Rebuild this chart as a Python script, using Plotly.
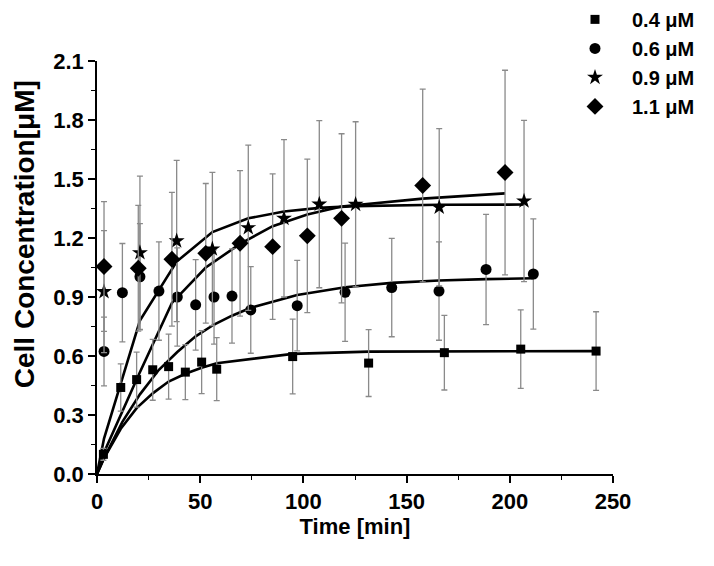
import plotly.graph_objects as go

# ---- data ----
x_04 = [3.1, 11.5, 19.2, 27.0, 34.7, 42.8, 50.7, 58.0, 94.8, 131.6, 168.3, 205.3, 241.8]
y_04 = [0.10, 0.44, 0.48, 0.53, 0.546, 0.518, 0.569, 0.533, 0.597, 0.564, 0.617, 0.635, 0.625]
e_04 = [0.03, 0.12, 0.14, 0.155, 0.165, 0.14, 0.16, 0.16, 0.19, 0.17, 0.19, 0.20, 0.20]

x_06 = [3.4, 12.3, 20.8, 30.0, 38.9, 47.8, 56.7, 65.4, 74.5, 97.0, 120.2, 142.8, 165.7, 188.5, 211.4]
y_06 = [0.623, 0.922, 1.003, 0.93, 0.90, 0.86, 0.90, 0.905, 0.834, 0.856, 0.924, 0.948, 0.93, 1.04, 1.017]
e_06 = [0.175, 0.25, 0.27, 0.25, 0.25, 0.23, 0.24, 0.24, 0.22, 0.23, 0.25, 0.25, 0.25, 0.28, 0.28]

x_09 = [3.4, 20.8, 38.6, 55.9, 73.3, 90.6, 107.7, 125.3, 165.8, 206.9]
y_09 = [0.927, 1.125, 1.185, 1.144, 1.252, 1.30, 1.372, 1.371, 1.356, 1.388]
e_09 = [0.31, 0.39, 0.41, 0.39, 0.42, 0.40, 0.425, 0.42, 0.40, 0.41]

x_11 = [3.4, 20.0, 36.3, 52.7, 69.3, 85.1, 101.9, 118.5, 157.8, 197.7]
y_11 = [1.055, 1.046, 1.092, 1.122, 1.173, 1.156, 1.211, 1.30, 1.467, 1.533]
e_11 = [0.33, 0.32, 0.34, 0.355, 0.37, 0.37, 0.39, 0.43, 0.49, 0.52]

# fitted curves
fx_04 = [0, 3.1, 11.5, 19.2, 27.0, 34.7, 42.8, 50.7, 58.0, 94.8, 131.6, 168.3, 205.3, 241.8]
fy_04 = [0, 0.074, 0.23, 0.335, 0.41, 0.47, 0.51, 0.54, 0.563, 0.611, 0.622, 0.624, 0.625, 0.625]
fx_06 = [0, 3.4, 12.3, 20.8, 30.0, 38.9, 47.8, 56.7, 65.4, 74.5, 97.0, 120.2, 142.8, 165.7, 188.5, 211.4]
fy_06 = [0, 0.08, 0.265, 0.405, 0.53, 0.62, 0.70, 0.76, 0.805, 0.845, 0.91, 0.95, 0.972, 0.984, 0.991, 0.995]
fx_09 = [0, 3.4, 20.8, 38.6, 55.9, 73.3, 90.6, 107.7, 125.3, 165.8, 206.9]
fy_09 = [0, 0.18, 0.78, 1.08, 1.23, 1.30, 1.335, 1.353, 1.362, 1.369, 1.37]
fx_11 = [0, 3.4, 20.0, 36.3, 52.7, 69.3, 85.1, 101.9, 118.5, 157.8, 197.7]
fy_11 = [0, 0.11, 0.50, 0.87, 1.05, 1.17, 1.26, 1.32, 1.36, 1.40, 1.427]

labels = ["0.4 μM", "0.6 μM", "0.9 μM", "1.1 μM"]
symbols = ["square", "circle", "star", "diamond"]
sizes = [9, 11, 12, 13]

x_ticks = [0, 50, 100, 150, 200, 250]
y_ticks = [0.0, 0.3, 0.6, 0.9, 1.2, 1.5, 1.8, 2.1]

fig = go.Figure()

for fx, fy in [(fx_04, fy_04), (fx_06, fy_06), (fx_09, fy_09), (fx_11, fy_11)]:
    fig.add_trace(go.Scatter(x=fx, y=fy, mode="lines", showlegend=False,
                             line=dict(color="black", width=2.6), hoverinfo="skip"))

series = [(x_04, y_04, e_04), (x_06, y_06, e_06), (x_09, y_09, e_09), (x_11, y_11, e_11)]
for (xs, ys, es), lab, sym, sz in zip(series, labels, symbols, sizes):
    fig.add_trace(go.Scatter(
        x=xs, y=ys, mode="markers", name=lab,
        marker=dict(symbol=sym, size=sz, color="black"),
        error_y=dict(type="data", array=es, visible=True, color="#8a8a8a",
                     thickness=1.3, width=3),
    ))

font_family = "Liberation Sans, Arial, sans-serif"

fig.update_layout(
    width=714, height=566,
    margin=dict(l=89, r=109, t=53, b=100, autoexpand=False),
    plot_bgcolor="white", paper_bgcolor="white",
    font=dict(family=font_family, color="black", size=20, weight="bold"),
    showlegend=True,
    legend=dict(x=(558 - 97) / 516, y=1.148, xanchor="left", yanchor="top",
                font=dict(size=20, family=font_family, weight="bold"),
                bgcolor="rgba(0,0,0,0)", itemwidth=64, tracegroupgap=0),
    xaxis=dict(range=[0, 250], tickvals=x_ticks, ticks="outside", ticklen=7,
               tickwidth=1.5, tickcolor="black", showline=True, linecolor="black",
               linewidth=1.5, showgrid=False, zeroline=False,
               tickfont=dict(size=22, family=font_family, weight="bold"),
               minor=dict(dtick=25, ticks="outside", ticklen=4, tickcolor="black",
                          tickwidth=1.2, showgrid=False),
               title=dict(text="Time [min]", standoff=0,
                          font=dict(size=22, family=font_family, weight="bold"))),
    yaxis=dict(range=[0, 2.1], tickvals=y_ticks, tickformat=".1f", ticks="outside",
               ticklen=7, tickwidth=1.5, tickcolor="black", showline=True,
               linecolor="black", linewidth=1.5, showgrid=False, zeroline=False,
               tickfont=dict(size=22, family=font_family, weight="bold"),
               minor=dict(dtick=0.15, ticks="outside", ticklen=4, tickcolor="black",
                          tickwidth=1.2, showgrid=False)),
    annotations=[dict(text="Cell Concentration[μM]", textangle=-90,
                      xref="paper", yref="paper", x=-0.14, y=0.58,
                      xanchor="center", yanchor="middle", showarrow=False,
                      font=dict(size=28, family=font_family, weight="bold"))],
)

fig.write_html("out.html")
